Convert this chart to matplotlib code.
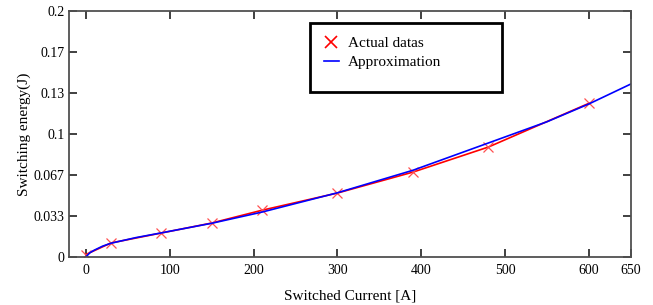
import matplotlib.pyplot as plt
from matplotlib.lines import Line2D
from matplotlib.patches import Rectangle

plt.rcParams['font.family'] = ['Liberation Serif', 'DejaVu Serif']

# measured points (red crosses)
current = [0, 30, 90, 150, 210, 300, 390, 480, 600]
energy = [0.002, 0.0114, 0.0195, 0.0276, 0.038, 0.052, 0.069, 0.0894, 0.125]

# approximation curve (blue)
approx_x = [0, 5, 10, 20, 30, 60, 90, 150, 210, 300, 390, 480, 550, 600, 650]
approx_y = [0.0, 0.0035, 0.0055, 0.0088, 0.0112, 0.0158, 0.0196, 0.0274, 0.0365,
            0.0522, 0.0705, 0.0927, 0.110, 0.1245, 0.1407]

x_ticks = [0, 100, 200, 300, 400, 500, 600, 650]
# ticks are spaced evenly at 0.2/6, labels are rounded
y_ticks = [0, 0.2 / 6, 0.4 / 6, 0.1, 0.8 / 6, 1.0 / 6, 0.2]
y_labels = ['0', '0.033', '0.067', '0.1', '0.13', '0.17', '0.2']

fig = plt.figure(figsize=(6.53, 3.05), dpi=100)
ax = fig.add_axes([69 / 653, 1 - 257 / 305, 562 / 653, 246 / 305])

ax.plot(current, energy, color='red', lw=1.2, marker='x', ms=7, mew=0.9,
        markeredgecolor='#ff5050')
ax.plot(approx_x, approx_y, color='blue', lw=1.2)

ax.set_xlim(-20, 650)
ax.set_ylim(0, 0.2)
ax.set_xticks(x_ticks)
ax.set_yticks(y_ticks)
ax.set_yticklabels(y_labels)
ax.tick_params(direction='in', length=6, width=1.2, labelsize=10,
               top=True, right=True, color='#202020')
ax.tick_params(axis='x', pad=5)
ax.tick_params(axis='y', pad=3)
for s in ax.spines.values():
    s.set_color('#505050')
    s.set_linewidth(1.3)

ax.set_xlabel('Switched Current [A]', fontsize=11, labelpad=9)
ax.set_ylabel('Switching energy(J)', fontsize=11, labelpad=2)

# legend box is taller than its entries, so draw the frame separately
fig.patches.append(Rectangle((310 / 653, 1 - 92 / 305), 192 / 653, 69 / 305,
                             transform=fig.transFigure, fill=False,
                             edgecolor='black', lw=2, zorder=5))
handles = [Line2D([], [], ls='none', marker='x', color='red', ms=8, mew=1.2),
           Line2D([], [], color='blue', lw=1.2)]
ax.legend(handles, ['Actual datas', 'Approximation'], loc='upper left',
          frameon=False, fontsize=11, handlelength=1.0, handletextpad=0.6,
          borderpad=0.9, labelspacing=0.35, borderaxespad=0,
          bbox_to_anchor=(310 / 653, 1 - 23 / 305),
          bbox_transform=fig.transFigure)

fig.savefig('out.png', dpi=100)
